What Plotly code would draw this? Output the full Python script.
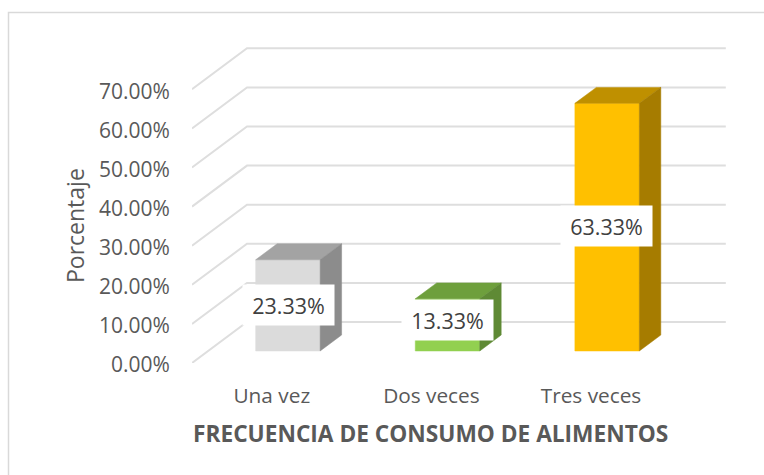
import plotly.graph_objects as go

categories = ["Una vez", "Dos veces", "Tres veces"]
values = [23.33, 13.33, 63.33]
value_labels = ["23.33%", "13.33%", "63.33%"]
y_ticks = [0, 10, 20, 30, 40, 50, 60, 70]
y_tick_labels = ["0.00%", "10.00%", "20.00%", "30.00%", "40.00%", "50.00%", "60.00%", "70.00%"]
front_colors = ["#DBDBDB", "#92D050", "#FFC000"]
top_colors = ["#A3A3A3", "#6E9F3C", "#BF9000"]
side_colors = ["#8C8C8C", "#5F8A35", "#A67C00"]
x_title = "FRECUENCIA DE CONSUMO DE ALIMENTOS"
y_title = "Porcentaje"

W, H = 764, 475
PLOT_L, PLOT_R, PLOT_T, PLOT_B = 192, 730, 44, 363
CAT_PX = 159.6
VAL_PX = 3.91
DEPTH_X = 55 / CAT_PX      # oblique shift of the full floor depth, category units
DEPTH_Y = 41 / VAL_PX      # same, value units
BAR_Z0, BAR_Z1 = 0.293, 0.683
BAR_HALF = 0.202
GRID = "#DEDEDE"
TEXT = "#595959"
FONT = "Open Sans"


def paper_x(px):
    return (px - PLOT_L) / (PLOT_R - PLOT_L)


def paper_y(px):
    return (PLOT_B - px) / (PLOT_B - PLOT_T)


def project(x, y, z):
    return x + z * DEPTH_X, y + z * DEPTH_Y


def poly(corners):
    pts = [project(*c) for c in corners]
    return [p[0] for p in pts], [p[1] for p in pts]


fig = go.Figure()

x_left, x_right = -0.5, len(categories) - 0.5
for t in y_ticks:
    xs, ys = poly([(x_left, t, 0), (x_left, t, 1), (x_right, t, 1)])
    fig.add_trace(go.Scatter(x=xs, y=ys, mode="lines", cliponaxis=False,
                             line=dict(color=GRID, width=2), hoverinfo="skip"))


def face(corners, color, name):
    xs, ys = poly(corners + corners[:1])
    fig.add_trace(go.Scatter(x=xs, y=ys, mode="lines", fill="toself", fillcolor=color,
                             line=dict(color=color, width=0.5), cliponaxis=False,
                             name=name, hoverinfo="skip"))


for i, (cat, v) in enumerate(zip(categories, values)):
    a, b = i - BAR_HALF, i + BAR_HALF
    z0, z1 = BAR_Z0, BAR_Z1
    face([(a, 0, z0), (b, 0, z0), (b, v, z0), (a, v, z0)], front_colors[i], cat)
    face([(a, v, z0), (b, v, z0), (b, v, z1), (a, v, z1)], top_colors[i], cat)
    face([(b, 0, z0), (b, 0, z1), (b, v, z1), (b, v, z0)], side_colors[i], cat)

label_yshift = [0, 5, 1]
label_xshift = [1, 0, -1]
annotations = []
for i, v in enumerate(values):
    lx, ly = project(i, v / 2, BAR_Z0)
    annotations.append(dict(x=lx, y=ly, xref="x", yref="y", text=value_labels[i],
                            showarrow=False, bgcolor="#FFFFFF",
                            yshift=label_yshift[i], xshift=label_xshift[i],
                            font=dict(family=FONT, size=21.5, color="#404040"),
                            width=89, height=38, align="center", valign="middle"))
annotations.append(dict(x=paper_x(430.5), y=paper_y(433), xref="paper", yref="paper",
                        xanchor="center", yanchor="middle",
                        text=f"<b>{x_title}</b>", showarrow=False,
                        font=dict(family=FONT, size=22.7, color=TEXT)))
annotations.append(dict(x=paper_x(75), y=paper_y(226), xref="paper", yref="paper",
                        xanchor="center", yanchor="middle",
                        text=y_title, textangle=-90, showarrow=False,
                        font=dict(family=FONT, size=23, color=TEXT)))

fig.update_layout(
    width=W, height=H, showlegend=False, autosize=False,
    paper_bgcolor="#FFFFFF", plot_bgcolor="#FFFFFF",
    margin=dict(l=PLOT_L, r=W - PLOT_R, t=PLOT_T, b=H - PLOT_B, pad=0, autoexpand=False),
    font=dict(family=FONT, size=20, color=TEXT),
    annotations=annotations,
    shapes=[dict(type="rect", xref="paper", yref="paper", layer="below",
                 x0=paper_x(8.5), x1=1.2, y0=-0.5, y1=paper_y(12.5),
                 line=dict(color="#D9D9D9", width=1.5))],
    xaxis=dict(range=[x_left, x_left + (PLOT_R - PLOT_L) / CAT_PX],
               tickmode="array", tickvals=list(range(len(categories))), ticktext=categories,
               showgrid=False, zeroline=False, showline=False, ticks="outside", ticklen=14,
               tickcolor="rgba(0,0,0,0)", tickfont=dict(size=20.8, color=TEXT)),
    yaxis=dict(range=[0, (PLOT_B - PLOT_T) / VAL_PX],
               tickmode="array", tickvals=y_ticks, ticktext=y_tick_labels,
               showgrid=False, zeroline=False, showline=False, ticks="outside", ticklen=17,
               ticklabelshift=2,
               tickcolor="rgba(0,0,0,0)", tickfont=dict(size=21, color=TEXT)),
)

fig.write_html("out.html", post_script="document.body.style.margin='0';",
               config={"displayModeBar": False})
